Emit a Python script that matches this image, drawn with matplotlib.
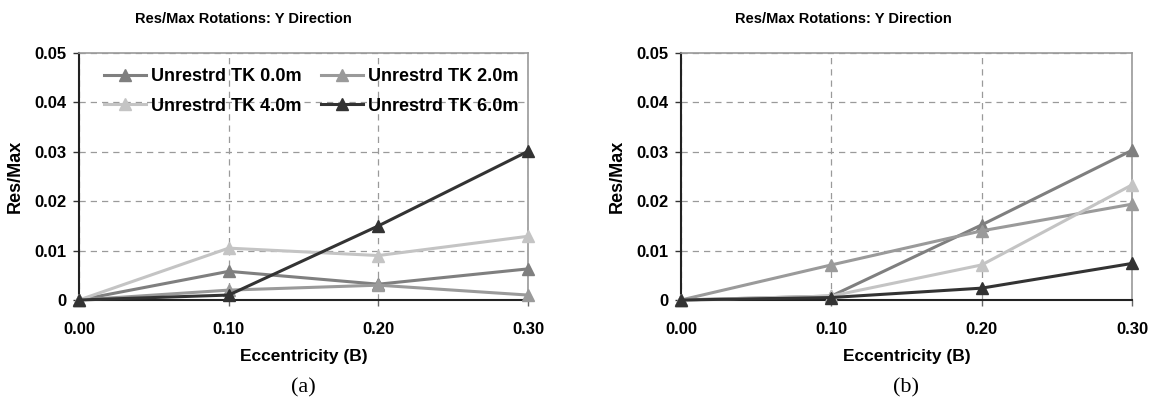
import matplotlib
matplotlib.use("Agg")
import matplotlib.pyplot as plt

plt.rcParams['font.family'] = ['Liberation Sans', 'DejaVu Sans']

eccentricity = [0.0, 0.1, 0.2, 0.3]
xtick_labels = ["0.00", "0.10", "0.20", "0.30"]
yticks = [0, 0.01, 0.02, 0.03, 0.04, 0.05]
ytick_labels = ["0", "0.01", "0.02", "0.03", "0.04", "0.05"]

series_names = ["Unrestrd TK 0.0m", "Unrestrd TK 2.0m", "Unrestrd TK 4.0m", "Unrestrd TK 6.0m"]
colors = ["#7f7f7f", "#9a9a9a", "#c4c4c4", "#333333"]

a_tk0 = [0.0, 0.0058, 0.0032, 0.0063]
a_tk2 = [0.0, 0.0020, 0.0030, 0.0010]
a_tk4 = [0.0, 0.0105, 0.0090, 0.0129]
a_tk6 = [0.0, 0.0010, 0.0150, 0.0301]

b_tk0 = [0.0, 0.0008, 0.0152, 0.0303]
b_tk2 = [0.0, 0.0071, 0.0140, 0.0194]
b_tk4 = [0.0, 0.0008, 0.0071, 0.0233]
b_tk6 = [0.0, 0.0005, 0.0024, 0.0074]

title = "Res/Max Rotations: Y Direction"
xlabel = "Eccentricity (B)"
ylabel = "Res/Max"

W, H = 1155, 401
fig = plt.figure(figsize=(W / 100, H / 100), dpi=100)

def make_axes(left_px, right_px, top_px, bottom_px):
    return fig.add_axes([left_px / W, 1 - bottom_px / H,
                         (right_px - left_px) / W, (bottom_px - top_px) / H])

panels = [
    dict(box=(79, 528, 53, 300), data=[a_tk0, a_tk2, a_tk4, a_tk6], legend=True,
         tag="(a)", title_x=243),
    dict(box=(681, 1132, 53, 300), data=[b_tk0, b_tk2, b_tk4, b_tk6], legend=False,
         tag="(b)", title_x=843),
]

for p in panels:
    l, r, t, b = p['box']
    ax = make_axes(l, r, t, b)
    lines = []
    for name, vals, c in zip(series_names, p['data'], colors):
        ln, = ax.plot(eccentricity, vals, color=c, lw=2.2, marker='^', ms=8,
                      markeredgecolor=c, label=name, clip_on=False, zorder=3)
        lines.append(ln)
    ax.set_xlim(0, 0.3)
    ax.set_ylim(0, 0.05)
    ax.set_xticks(eccentricity)
    ax.set_xticklabels(xtick_labels, fontsize=12, fontweight='bold')
    ax.set_yticks(yticks)
    ax.set_yticklabels(ytick_labels, fontsize=12, fontweight='bold')
    ax.grid(True, color='#9a9a9a', linestyle=(0, (5, 4)), lw=0.9)
    ax.tick_params(axis='x', length=4, direction='out', width=1, pad=12, color='#666666')
    ax.tick_params(axis='y', length=4, direction='out', width=1, pad=5, color='#333333')
    for s in ['top', 'right']:
        ax.spines[s].set_color('#9a9a9a')
        ax.spines[s].set_linewidth(1.2)
    for s in ['left', 'bottom']:
        ax.spines[s].set_color('#222222')
        ax.spines[s].set_linewidth(1.5)
    ax.set_axisbelow(True)
    ax.set_xlabel(xlabel, fontsize=12.5, fontweight='bold')
    ax.xaxis.set_label_coords(0.5, -(357 - b) / (b - t), transform=ax.transAxes)
    ax.xaxis.label.set_va('center')
    ax.set_ylabel(ylabel, fontsize=13, fontweight='bold')
    ax.yaxis.set_label_coords(-64 / (r - l), 0.5)
    ax.yaxis.label.set_va('center')
    fig.text(p['title_x'] / W, 1 - 19 / H, title, fontsize=10.5, fontweight='bold',
             ha='center', va='center')
    fig.text(((l + r) / 2) / W, 1 - 388 / H, p['tag'], fontsize=16,
             family='Liberation Serif', ha='center', va='center')
    if p['legend']:
        order = [0, 2, 1, 3]
        ax.legend([lines[i] for i in order], [series_names[i] for i in order],
                  loc='upper left', ncol=2, frameon=False,
                  prop={'weight': 'bold', 'size': 13}, handlelength=2.3,
                  columnspacing=1.1, handletextpad=0.3, labelspacing=0.7,
                  borderpad=0, borderaxespad=0,
                  bbox_to_anchor=((104 - l) / (r - l), 1 - (68 - t) / (b - t)))

fig.savefig("out.png", dpi=100)
